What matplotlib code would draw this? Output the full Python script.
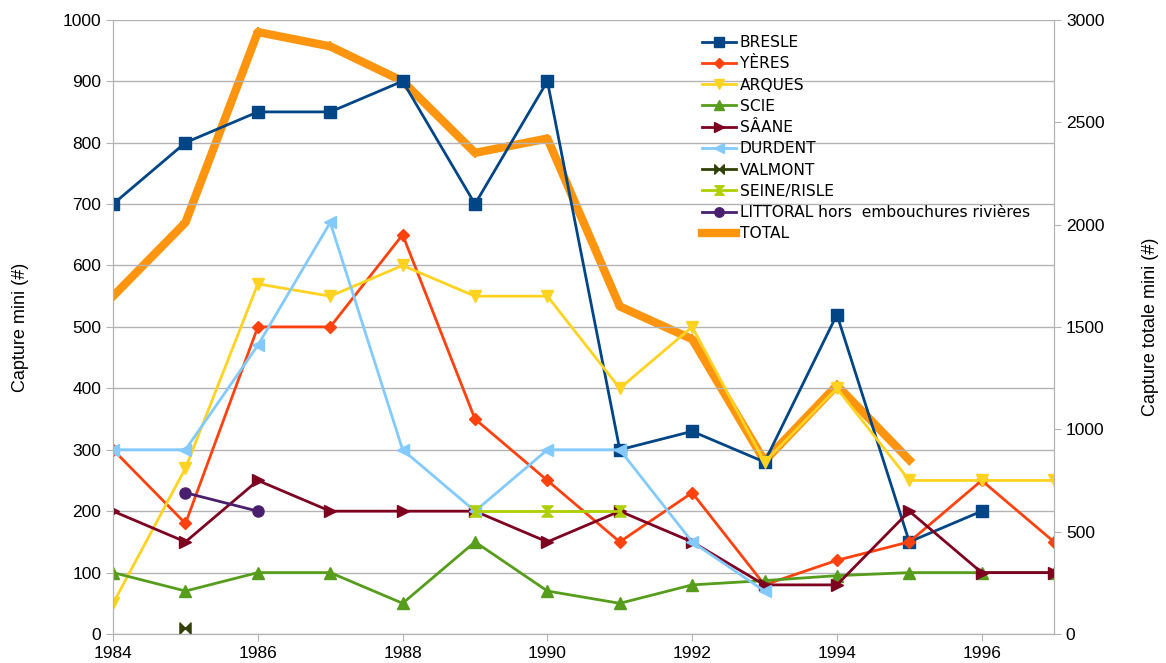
import numpy as np
import matplotlib
matplotlib.use("Agg")
import matplotlib.pyplot as plt
from matplotlib.path import Path

nan = np.nan
years = list(range(1984, 1998))

bresle   = [700, 800, 850, 850, 900, 700, 900, 300, 330, 280, 520, 150, 200, nan]
yeres    = [300, 180, 500, 500, 650, 350, 250, 150, 230, 80, 120, 150, 250, 150]
arques   = [50, 270, 570, 550, 600, 550, 550, 400, 500, 280, 400, 250, 250, 250]
scie     = [100, 70, 100, 100, 50, 150, 70, 50, 80, 87, 95, 100, 100, 100]
saane    = [200, 150, 250, 200, 200, 200, 150, 200, 150, 80, 80, 200, 100, 100]
durdent  = [300, 300, 470, 670, 300, 200, 300, 300, 150, 70, nan, nan, nan, nan]
valmont  = [nan, 10, nan, nan, nan, nan, nan, nan, nan, nan, nan, nan, nan, nan]
seine    = [nan, nan, nan, nan, nan, 200, 200, 200, nan, nan, nan, nan, nan, nan]
littoral = [nan, 230, 200, nan, nan, nan, nan, nan, nan, nan, nan, nan, nan, nan]
total    = [1650, 2010, 2940, 2870, 2700, 2350, 2420, 1600, 1440, 845, 1215, 850, nan, nan]

# marqueurs "noeud papillon" et "sablier" comme dans LibreOffice
bowtie = Path([(-1, -1), (0, 0), (-1, 1), (-1, -1), (1, -1), (0, 0), (1, 1), (1, -1)],
              [1, 2, 2, 79, 1, 2, 2, 79])
hourglass = Path([(-1, 1), (0, 0), (1, 1), (-1, 1), (-1, -1), (0, 0), (1, -1), (-1, -1)],
                 [1, 2, 2, 79, 1, 2, 2, 79])

series = [
    ("BRESLE", bresle, "#004586", "s", 8),
    ("YÈRES", yeres, "#ff420e", "D", 6),
    ("ARQUES", arques, "#ffd320", "v", 8),
    ("SCIE", scie, "#579d1c", "^", 8),
    ("SÂANE", saane, "#7e0021", ">", 8),
    ("DURDENT", durdent, "#83caff", "<", 8),
    ("VALMONT", valmont, "#314004", bowtie, 8),
    ("SEINE/RISLE", seine, "#aecf00", hourglass, 8),
    ("LITTORAL hors  embouchures rivières", littoral, "#4b1f6f", "o", 8),
]

plt.rcParams['font.family'] = ['Liberation Sans', 'DejaVu Sans']

fig = plt.figure(figsize=(11.66, 6.63), dpi=100)
ax = fig.add_axes([0.097, 0.0437, 0.807, 0.9265])
ax2 = ax.twinx()

# TOTAL sous les autres courbes
ax2.set_zorder(0)
ax.set_zorder(1)
ax.patch.set_visible(False)

lt, = ax2.plot(years, total, color="#ff950e", lw=6, marker="+", ms=7, mew=1.5,
               label="TOTAL")

handles = []
for name, vals, col, mk, ms in series:
    h, = ax.plot(years, vals, color=col, lw=2, marker=mk, ms=ms, label=name)
    handles.append(h)
handles.append(lt)

ax.set_xlim(1984, 1997)
ax.set_ylim(0, 1000)
ax2.set_ylim(0, 3000)
ax.set_xticks(range(1984, 1998, 2))
ax.set_yticks(range(0, 1001, 100))
ax2.set_yticks(range(0, 3001, 500))

ax2.yaxis.grid(False)
ax.yaxis.grid(True, color="#b3b3b3", lw=1)
ax.set_axisbelow(True)

for a in (ax, ax2):
    a.spines["top"].set_visible(False)
    for s in ("left", "right", "bottom"):
        a.spines[s].set_color("#b3b3b3")
    a.tick_params(colors="#b3b3b3", labelcolor="black", labelsize=12.5, length=5)

ax.set_ylabel("Capture mini (#)", fontsize=13, labelpad=24)
ax2.set_ylabel("Capture totale mini (#)", fontsize=13, labelpad=27)

leg = ax.legend(handles=handles, loc="upper left", bbox_to_anchor=(0.619, 0.985),
                frameon=False, handlelength=2.2, handletextpad=0.25,
                labelspacing=0.4, borderaxespad=0, markerscale=0.85,
                prop={'family': ['DejaVu Sans'], 'size': 11.2})

fig.savefig("out.png", dpi=100)
